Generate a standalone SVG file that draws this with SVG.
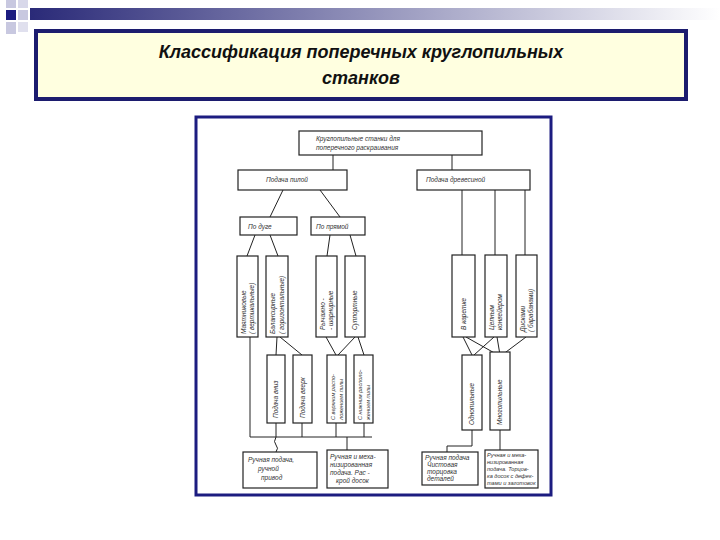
<svg xmlns="http://www.w3.org/2000/svg" width="720" height="540" viewBox="0 0 720 540">
<defs>
<linearGradient id="bar" x1="0" x2="1" y1="0" y2="0"><stop offset="0" stop-color="#2a2a78"/><stop offset="1" stop-color="#ffffff"/></linearGradient>
<style>
.b{fill:#fff;stroke:#222;stroke-width:1.2}
.t{font-family:"Liberation Sans",Arial,sans-serif;font-style:italic;font-size:6.5px;fill:#333}
.s{font-size:5.6px}
.c{fill:none;stroke:#222;stroke-width:1}
</style>
</defs>
<rect width="720" height="540" fill="#fff"/>
<g id="decor">
<rect x="6" y="0" width="10" height="8" fill="#c8c8e0"/><rect x="18" y="0" width="10" height="8" fill="#d8d8ea"/>
<rect x="6" y="10" width="10" height="10" fill="#1c1c80"/><rect x="18" y="10" width="10" height="10" fill="#c8c8e0"/>
<rect x="30" y="8" width="690" height="12" fill="url(#bar)"/>
<rect x="6" y="22" width="10" height="12" fill="#c8c8e0"/><rect x="18" y="22" width="10" height="10" fill="#e0e0ee"/>
</g>
<g id="title">
<rect x="36" y="31" width="650" height="68" fill="#ffffe0" stroke="#1c1c6e" stroke-width="4"/>
<text x="361" y="58" text-anchor="middle" font-family="Liberation Sans,Arial,sans-serif" font-style="italic" font-weight="bold" font-size="18" fill="#111">Классификация поперечных круглопильных</text>
<text x="361" y="84" text-anchor="middle" font-family="Liberation Sans,Arial,sans-serif" font-style="italic" font-weight="bold" font-size="18" fill="#111">станков</text>
</g>
<rect x="196" y="117" width="355" height="378" fill="#fff" stroke="#1c1c80" stroke-width="3"/>
<g id="connectors">
<path class="c" d="M333 155V170M452 155V170M283 190L270 217M320 190L340 217M462 190V255M495 190V255M525 190V255"/>
<path class="c" d="M255 235L247 256M270 235L278 256M330 235L327 256M350 235L356 256"/>
<path class="c" d="M250 337V437H372M277 337L276 355M280 337L302 355M326 337L336 355M355 337L338 355M358 337L364 355"/>
<path class="c" d="M276 423V437M302 423V437M336 423V437M364 423V437M276 437q-3 5 0 8t0 7M347 437V450"/>
<path class="c" d="M463 337L472 355M466 337L498 355M494 337L474 355M497 337L500 355M526 337L502 355M472 430V446H447V452M500 430V450"/>
</g>
<g id="n-root"><rect class="b" x="299" y="131" width="183" height="24"/><text class="t" x="316" y="141">Круглопильные  станки  для</text><text class="t" x="316" y="150">поперечного  раскраивания</text></g>
<g id="n-saw"><rect class="b" x="238" y="170" width="109" height="20"/><text class="t" x="266" y="182">Подача  пилой</text></g>
<g id="n-wood"><rect class="b" x="417" y="170" width="113" height="20"/><text class="t" x="426" y="182">Подача  древесиной</text></g>
<g id="n-arc"><rect class="b" x="240" y="217" width="57" height="18"/><text class="t" x="248" y="229">По  дуге</text></g>
<g id="n-line"><rect class="b" x="311" y="217" width="54" height="18"/><text class="t" x="316" y="229">По прямой</text></g>
<g id="n-v1"><rect class="b" x="237" y="256" width="21" height="81"/><text class="t" transform="translate(246 334) rotate(-90)">Маятниковые</text><text class="t" transform="translate(254 334) rotate(-90)">( вертикальные)</text></g>
<g id="n-v2"><rect class="b" x="266" y="256" width="22" height="81"/><text class="t" transform="translate(275 334) rotate(-90)">Балансирные</text><text class="t" transform="translate(284 334) rotate(-90)">( горизонтальные)</text></g>
<g id="n-v3"><rect class="b" x="316" y="256" width="21" height="81"/><text class="t" transform="translate(325 330) rotate(-90)">Рычажно -</text><text class="t" transform="translate(333 330) rotate(-90)">- шарнирные</text></g>
<g id="n-v4"><rect class="b" x="345" y="256" width="20" height="81"/><text class="t" transform="translate(357 330) rotate(-90)">Суппортные</text></g>
<g id="n-r1"><rect class="b" x="452" y="255" width="23" height="82"/><text class="t" transform="translate(466 330) rotate(-90)">В каретке</text></g>
<g id="n-r2"><rect class="b" x="485" y="255" width="22" height="82"/><text class="t" transform="translate(494 330) rotate(-90)">Цепным</text><text class="t" transform="translate(502 330) rotate(-90)">конвейером</text></g>
<g id="n-r3"><rect class="b" x="516" y="255" width="21" height="82"/><text class="t" transform="translate(525 332) rotate(-90)">Дисками</text><text class="t" transform="translate(533 332) rotate(-90)">( барабанами)</text></g>
<g id="n-d1"><rect class="b" x="267" y="355" width="18" height="68"/><text class="t" transform="translate(278 418) rotate(-90)">Подача  вниз</text></g>
<g id="n-d2"><rect class="b" x="293" y="355" width="19" height="68"/><text class="t" transform="translate(305 418) rotate(-90)">Подача  вверх</text></g>
<g id="n-d3"><rect class="b" x="327" y="355" width="19" height="68"/><text class="t s" transform="translate(335 420) rotate(-90)">С верхним распо-</text><text class="t s" transform="translate(343 420) rotate(-90)">ложением пилы</text></g>
<g id="n-d4"><rect class="b" x="354" y="355" width="19" height="68"/><text class="t s" transform="translate(362 420) rotate(-90)">С нижним располо-</text><text class="t s" transform="translate(370 420) rotate(-90)">жением пилы</text></g>
<g id="n-o1"><rect class="b" x="462" y="355" width="20" height="75"/><text class="t" transform="translate(474 425) rotate(-90)">Однопильные</text></g>
<g id="n-o2"><rect class="b" x="490" y="352" width="20" height="78"/><text class="t" transform="translate(502 425) rotate(-90)">Многопильные</text></g>
<g id="n-f1"><rect class="b" x="243" y="452" width="74" height="36"/><text class="t" x="248" y="462">Ручная подача,</text><text class="t" x="258" y="471">ручной</text><text class="t" x="261" y="480">привод</text></g>
<g id="n-f2"><rect class="b" x="327" y="450" width="61" height="38"/><text class="t" x="330" y="459">Ручная и меха-</text><text class="t" x="330" y="467">низированная</text><text class="t" x="330" y="475">подача. Рас -</text><text class="t" x="336" y="483">крой  досок</text></g>
<g id="n-f3"><rect class="b" x="422" y="452" width="56" height="33"/><text class="t" x="425" y="460">Ручная подача</text><text class="t" x="427" y="467">Чистовая</text><text class="t" x="427" y="474">торцовка</text><text class="t" x="427" y="481">деталей</text></g>
<g id="n-f4"><rect class="b" x="485" y="450" width="53" height="38"/><text class="t s" x="487" y="457">Ручная и меха-</text><text class="t s" x="487" y="464">низированная</text><text class="t s" x="487" y="471">подача. Торцов-</text><text class="t s" x="487" y="478">ка досок с дефек-</text><text class="t s" x="487" y="485">тами и заготовок</text></g>
</svg>
